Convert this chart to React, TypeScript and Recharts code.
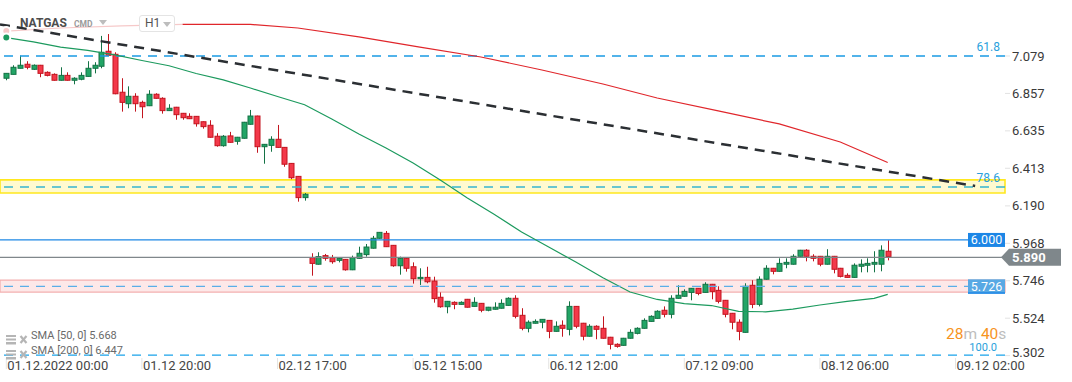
import React from 'react';
import {
  ComposedChart, Bar, Line, XAxis, YAxis, ReferenceLine, ReferenceArea,
} from 'recharts';

const opens = [6.947,6.970,7.006,7.030,7.000,7.024,6.982,6.970,6.935,6.964,6.935,6.941,6.958,7.006,7.018,7.107,7.089,6.864,6.796,6.840,6.804,6.784,6.852,6.828,6.755,6.775,6.739,6.721,6.721,6.689,6.668,6.603,6.547,6.605,6.573,6.591,6.674,6.723,6.541,6.549,6.585,6.537,6.442,6.365,6.239,5.883,5.844,5.895,5.883,5.867,5.873,5.811,5.879,5.901,5.939,5.998,6.027,5.956,5.835,5.879,5.829,5.758,5.766,5.744,5.648,5.592,5.618,5.606,5.636,5.594,5.612,5.571,5.577,5.583,5.600,5.642,5.541,5.464,5.494,5.500,5.511,5.446,5.482,5.458,5.594,5.494,5.417,5.476,5.464,5.411,5.369,5.363,5.405,5.434,5.464,5.505,5.523,5.571,5.547,5.642,5.654,5.677,5.701,5.677,5.725,5.689,5.630,5.553,5.500,5.440,5.719,5.606,5.755,5.820,5.802,5.844,5.844,5.891,5.927,5.891,5.891,5.844,5.891,5.820,5.778,5.766,5.832,5.838,5.844,5.844,5.921];
const highs = [6.976,7.024,7.081,7.048,7.029,7.026,6.988,6.976,7.012,6.982,6.953,6.982,7.048,7.042,7.198,7.209,7.101,6.947,6.899,6.858,6.814,6.876,6.858,6.834,6.793,6.777,6.741,6.739,6.723,6.691,6.698,6.621,6.610,6.629,6.599,6.688,6.759,6.725,6.557,6.603,6.670,6.539,6.444,6.367,6.266,5.909,5.915,5.905,5.899,5.881,5.875,5.895,5.948,5.964,6.012,6.035,6.041,5.958,5.889,5.881,5.855,5.820,5.829,5.770,5.677,5.626,5.624,5.624,5.638,5.648,5.614,5.591,5.618,5.636,5.648,5.660,5.583,5.511,5.517,5.519,5.513,5.505,5.511,5.624,5.596,5.496,5.488,5.482,5.535,5.413,5.375,5.407,5.458,5.470,5.523,5.541,5.571,5.594,5.660,5.719,5.695,5.703,5.703,5.737,5.727,5.713,5.632,5.555,5.517,5.731,5.749,5.772,5.838,5.822,5.879,5.879,5.903,5.929,5.933,5.903,5.893,5.933,5.893,5.822,5.790,5.849,5.873,5.879,5.921,5.956,5.986];
const lows = [6.935,6.970,7.006,7.000,6.996,6.953,6.958,6.933,6.933,6.933,6.911,6.935,6.956,6.976,7.006,7.080,6.852,6.749,6.769,6.749,6.710,6.782,6.826,6.737,6.753,6.701,6.701,6.705,6.660,6.648,6.595,6.541,6.541,6.565,6.553,6.589,6.672,6.505,6.440,6.511,6.535,6.422,6.348,6.215,6.221,5.776,5.842,5.865,5.847,5.855,5.806,5.809,5.877,5.889,5.937,5.996,5.946,5.829,5.782,5.800,5.729,5.721,5.731,5.616,5.586,5.553,5.577,5.604,5.587,5.592,5.559,5.565,5.575,5.581,5.598,5.523,5.452,5.440,5.492,5.464,5.405,5.444,5.414,5.422,5.464,5.393,5.415,5.399,5.403,5.339,5.349,5.361,5.403,5.428,5.462,5.503,5.521,5.529,5.523,5.640,5.652,5.630,5.660,5.675,5.636,5.612,5.529,5.458,5.393,5.438,5.583,5.594,5.753,5.784,5.800,5.820,5.842,5.889,5.861,5.861,5.832,5.842,5.790,5.766,5.764,5.764,5.796,5.796,5.796,5.802,5.867];
const closes = [6.976,7.012,7.024,7.012,7.024,6.976,6.964,6.935,6.964,6.935,6.947,6.964,7.006,7.024,7.101,7.083,6.855,6.804,6.840,6.796,6.778,6.852,6.828,6.755,6.769,6.731,6.713,6.707,6.677,6.660,6.597,6.547,6.603,6.567,6.597,6.686,6.723,6.541,6.555,6.585,6.537,6.437,6.357,6.239,6.259,5.849,5.889,5.879,5.859,5.879,5.811,5.883,5.909,5.946,5.998,6.033,5.948,5.835,5.879,5.820,5.758,5.766,5.740,5.640,5.592,5.624,5.606,5.618,5.589,5.618,5.571,5.589,5.589,5.612,5.642,5.535,5.464,5.500,5.505,5.517,5.446,5.476,5.464,5.594,5.476,5.417,5.476,5.458,5.405,5.369,5.357,5.405,5.440,5.464,5.511,5.535,5.565,5.547,5.642,5.660,5.683,5.701,5.671,5.725,5.683,5.624,5.547,5.500,5.446,5.713,5.606,5.755,5.820,5.802,5.849,5.855,5.891,5.927,5.891,5.879,5.844,5.891,5.814,5.772,5.766,5.838,5.844,5.849,5.855,5.927,5.890];

const sma50Idx = [0,4,8,12,16,20,24,28,32,36,40,44,48,52,56,60,64,68,72,76,80,84,88,92,96,100,104,108,112,116,120,124,128,130];
const sma50Vals = [7.188,7.163,7.131,7.112,7.086,7.052,7.021,6.975,6.937,6.889,6.839,6.790,6.705,6.616,6.533,6.444,6.344,6.237,6.139,6.035,5.946,5.857,5.764,5.679,5.635,5.610,5.599,5.564,5.562,5.578,5.602,5.624,5.642,5.665];
const sma200Idx = [0,8,17,26,36,43,52,61,70,79,88,96,105,114,123,130];
const sma200Vals = [7.227,7.245,7.257,7.266,7.266,7.245,7.192,7.132,7.073,6.996,6.913,6.830,6.753,6.676,6.569,6.447];
// the part of SMA 200 that lies under the instrument label is drawn faded
const sma200FadeUntil = 26;

const xTickIdx = [0,20,40,60,80,100,120,140];
const xTickLabels = ['01.12.2022 00:00','01.12 20:00','02.12 17:00','05.12 15:00','06.12 12:00','07.12 09:00','08.12 06:00','09.12 02:00'];
const yTicks = [5.302,5.524,5.746,5.968,6.190,6.413,6.635,6.857,7.079];

const fib618 = 7.079;
const fib786 = 6.302;
const fib100 = 5.305;
const yellowBand = [6.266, 6.344];
const pinkBand = [5.679, 5.750];
const pinkLevel = 5.713;
const blueLevel = 5.988;
const lastLevel = 5.885;
const trendStart = { i: -0.93, v: 7.266 };
const trendEnd = { i: 142.9, v: 6.308 };

const FONT = 'Roboto, "Noto Sans", sans-serif';
const G_FILL = '#22a566', G_STROKE = '#147245';
const R_FILL = '#f3394a', R_STROKE = '#c3151f';

const sma50Map = new Map(sma50Idx.map((k, j) => [k, sma50Vals[j]]));
const sma200Map = new Map(sma200Idx.map((k, j) => [k, sma200Vals[j]]));
const rows = closes.map((c, i) => {
  const s200 = sma200Map.has(i) ? (sma200Map.get(i) as number) : null;
  return {
    i, o: opens[i], h: highs[i], l: lows[i], c,
    range: [lows[i], highs[i]],
    sma50: sma50Map.has(i) ? sma50Map.get(i) : null,
    sma200a: i <= sma200FadeUntil ? s200 : null,
    sma200b: i >= sma200FadeUntil ? s200 : null,
  };
});

const Candle = (props: any) => {
  const { x, y, width, height, payload } = props;
  if (!payload || x == null) return null;
  const { o, h, l, c } = payload;
  const top = Math.min(y, y + height);
  const bottom = Math.max(y, y + height);
  const span = h - l || 1e-6;
  const py = (v: number) => top + ((h - v) / span) * (bottom - top);
  const cx = Math.round(x + width / 2) + 0.5;
  const up = c >= o;
  const bt = py(Math.max(o, c));
  const bb = py(Math.min(o, c));
  return (
    <g>
      <line x1={cx} x2={cx} y1={top} y2={bottom} stroke={up ? G_STROKE : R_STROKE} strokeWidth={1} />
      <rect x={cx - 2.5} y={bt} width={5} height={Math.max(bb - bt, 1)}
        fill={up ? G_FILL : R_FILL} stroke={up ? G_STROKE : R_STROKE} strokeWidth={1} />
    </g>
  );
};

const XTick = (props: any) => {
  const { x, payload } = props;
  const k = xTickIdx.indexOf(payload.value);
  if (k < 0) return null;
  return (
    <g>
      <line x1={x} x2={x} y1={358} y2={369} stroke="#e4e4e4" />
      <text x={x + 1} y={370} fill="#454545" fontSize={13} fontFamily={FONT}>{xTickLabels[k]}</text>
    </g>
  );
};

const YTick = (props: any) => {
  const { x, y, payload } = props;
  const dy = payload.value === 5.302 ? -3.5 : 0;
  return (
    <text x={x} y={y + dy} dy="0.355em" fill="#3a3a3a" fontSize={13} fontFamily={FONT} textAnchor="start">
      {Number(payload.value).toFixed(3)}
    </text>
  );
};

const BoxLabel = (fill: string, text: string, under?: string) => (props: any) => {
  const vb = props.viewBox || {};
  const right = vb.x + vb.width;
  const ly = vb.y;
  return (
    <g>
      <rect x={right - 37} y={ly - 7} width={37} height={14} fill={fill} />
      {under ? <rect x={right - 37} y={ly + 6} width={37} height={1.5} fill={under} /> : null}
      <text x={right - 18.5} y={ly} dy="0.36em" textAnchor="middle" fill="#fff" fontSize={12.5} fontFamily={FONT}>{text}</text>
    </g>
  );
};

const LastLabel = (props: any) => {
  const vb = props.viewBox || {};
  const right = vb.x + vb.width;
  const ly = vb.y;
  const pts = `${right - 4},${ly} ${right + 4},${ly - 8.5} ${right + 56},${ly - 8.5} ${right + 56},${ly + 8.5} ${right + 4},${ly + 8.5}`;
  return (
    <g>
      <polygon points={pts} fill="#7f878b" />
      <text x={right + 7} y={ly} dy="0.36em" fill="#fff" fontSize={13} fontWeight="bold" fontFamily={FONT}>5.890</text>
    </g>
  );
};

const FibLabel = (text: string, dx = 5, size = 12, lift = 5) => (props: any) => {
  const vb = props.viewBox || {};
  return (
    <text x={vb.x + vb.width - dx} y={vb.y - lift} textAnchor="end" fill="#2a9fdc" fontSize={size} fontFamily={FONT}>{text}</text>
  );
};

const ListIcon = ({ top }: { top: number }) => (
  <div style={{ position: 'absolute', left: 6, top, width: 22, height: 9 }}>
    <svg width={22} height={10}>
      <rect x={0} y={0} width={10} height={2} fill="#b5b5b5" />
      <rect x={0} y={3.5} width={10} height={2} fill="#b5b5b5" />
      <rect x={0} y={7} width={10} height={2.5} fill="#b5b5b5" />
      <line x1={14.5} y1={1} x2={20.5} y2={8} stroke="#b5b5b5" strokeWidth={2.2} />
      <line x1={20.5} y1={1} x2={14.5} y2={8} stroke="#b5b5b5" strokeWidth={2.2} />
    </svg>
  </div>
);

export default function App() {
  return (
    <div style={{ position: 'absolute', left: 0, top: 0, width: 1072, height: 382, background: '#fff', fontFamily: FONT, overflow: 'hidden' }}>
      <ComposedChart width={1072} height={382} data={rows} margin={{ top: 0, right: 0, left: 0, bottom: 0 }}>
        <XAxis type="number" dataKey="i" domain={[-0.93, 147.3]} allowDataOverflow ticks={xTickIdx}
          tick={<XTick />} height={22} axisLine={false} tickLine={false} interval={0} />
        <YAxis orientation="right" type="number" domain={[5.276, 7.411]} allowDataOverflow ticks={yTicks}
          width={67} axisLine={false} tickSize={5} tickMargin={2} tickLine={{ stroke: '#e2e2e2' }}
          tick={<YTick />} interval={0} />
        <ReferenceLine y={fib618} stroke="#1a9be3" strokeWidth={1.3} strokeDasharray="9 7" label={FibLabel('61.8')} />
        <ReferenceLine y={fib100} stroke="#1aa3ea" strokeWidth={1.3} strokeDasharray="9 7" label={FibLabel('100.0', 8, 11, 4)} />
        <ReferenceLine y={blueLevel} stroke="#1e88e5" strokeWidth={1.2} label={BoxLabel('#1c86e6', '6.000')} />
        <ReferenceLine y={lastLevel} stroke="#80878b" strokeWidth={1.2} label={LastLabel} />
        <Line dataKey="sma200a" stroke="#f6c9c9" strokeWidth={1.2} dot={false} connectNulls isAnimationActive={false} />
        <Line dataKey="sma200b" stroke="#e0262b" strokeWidth={1.2} dot={false} connectNulls isAnimationActive={false} />
        <Line dataKey="sma50" stroke="#1c9a5e" strokeWidth={1.2} dot={false} connectNulls isAnimationActive={false} />
        <Bar dataKey="range" shape={<Candle />} barSize={5} isAnimationActive={false} />
        <ReferenceArea y1={pinkBand[0]} y2={pinkBand[1]} fill="#fbd6d6" fillOpacity={0.55} stroke="#f3b0b0" strokeWidth={1.3} />
        <ReferenceArea y1={yellowBand[0]} y2={yellowBand[1]} fill="#fff6a8" fillOpacity={0.55} stroke="#ffe81f" strokeWidth={1.6} />
        <ReferenceLine y={pinkLevel} stroke="#5aaee8" strokeWidth={1.3} strokeDasharray="9 7" label={BoxLabel('#58a9e4', '5.726', '#1c86e6')} />
        <ReferenceLine y={fib786} stroke="#37b5cf" strokeWidth={1.3} strokeDasharray="9 7" label={FibLabel('78.6')} />
        <ReferenceLine segment={[{ x: trendStart.i, y: trendStart.v }, { x: trendEnd.i, y: trendEnd.v }]}
          stroke="#2b2f33" strokeWidth={2.5} strokeDasharray="10 7" />
      </ComposedChart>

      <div style={{ position: 'absolute', left: 20, top: 15, fontSize: 12, fontWeight: 'bold', color: '#4d4d4d', lineHeight: '16px' }}>NATGAS</div>
      <div style={{ position: 'absolute', left: 74, top: 18, fontSize: 8.5, fontWeight: 'bold', color: '#9a9a9a', lineHeight: '12px' }}>CMD</div>
      <div style={{ position: 'absolute', left: 99, top: 20, width: 0, height: 0, borderLeft: '4px solid transparent', borderRight: '4px solid transparent', borderTop: '5px solid #bdbdbd' }} />
      <div style={{ position: 'absolute', left: 139, top: 15, width: 34, height: 15, border: '1px solid #e4e4e4', borderRadius: 3, background: '#fff' }}>
        <span style={{ position: 'absolute', left: 5, top: 0, fontSize: 12, color: '#555', lineHeight: '15px' }}>H1</span>
        <div style={{ position: 'absolute', left: 23, top: 6, width: 0, height: 0, borderLeft: '4px solid transparent', borderRight: '4px solid transparent', borderTop: '5px solid #bdbdbd' }} />
      </div>

      <ListIcon top={330} />
      <ListIcon top={345} />
      <div style={{ position: 'absolute', left: 31, top: 329, fontSize: 11, color: '#6a6a6a', lineHeight: '13px', whiteSpace: 'pre' }}>SMA [50, 0] 5.668</div>
      <div style={{ position: 'absolute', left: 31, top: 344, fontSize: 11, color: '#6a6a6a', lineHeight: '13px', whiteSpace: 'pre' }}>SMA [200, 0] 6.447</div>

      <div style={{ position: 'absolute', left: 946, top: 328, fontSize: 15.5, lineHeight: '13px', whiteSpace: 'pre' }}>
        <span style={{ color: '#f7941d' }}>28</span><span style={{ color: '#bdbdbd' }}>m </span>
        <span style={{ color: '#f7941d' }}>40</span><span style={{ color: '#bdbdbd' }}>s</span>
      </div>
    </div>
  );
}
